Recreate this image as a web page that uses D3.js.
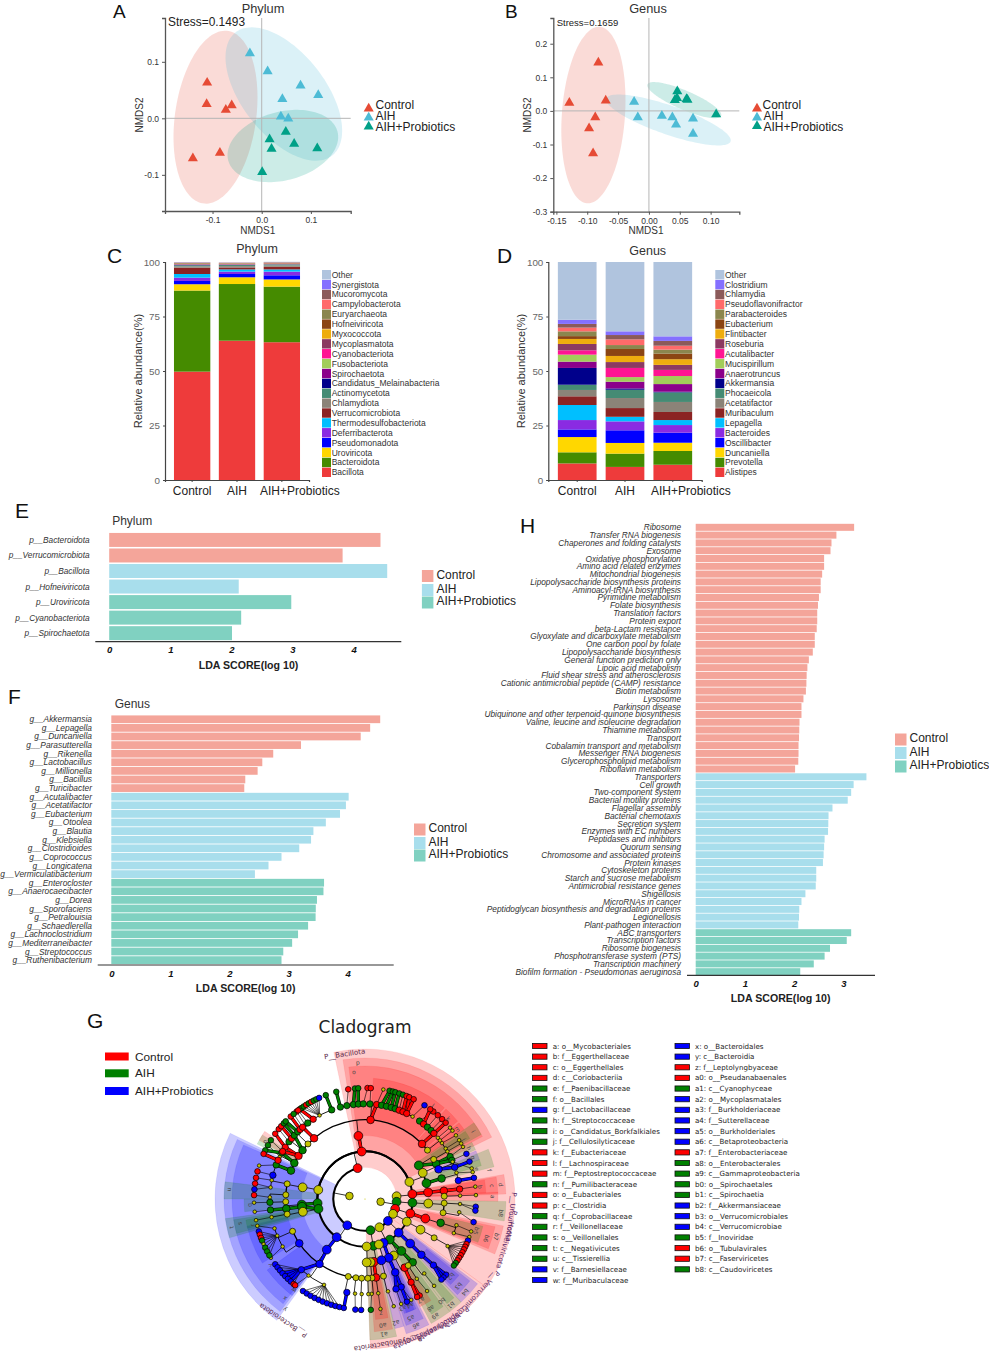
<!DOCTYPE html>
<html><head><meta charset="utf-8">
<script src="https://cdn.jsdelivr.net/npm/d3@7/dist/d3.min.js"></script>
<style>html,body{margin:0;background:#fff}svg{display:block;font-family:"Liberation Sans",Arial,sans-serif}</style>
</head><body><svg id="fig" width="989" height="1352"></svg>
<script>
// ---------- Groups ----------
const groups = ["Control","AIH","AIH+Probiotics"];
const nmdsColors = ["#E64B35","#4DBBD5","#00A087"];
const ldaColors = ["#F4A59A","#A8DEEC","#80D1C1"];

// ---------- A / B: NMDS points [x, y] and ellipses [cx, cy, halfX, halfY, corr] ----------
const phylumPoints = [
 [[-0.111,0.063],[-0.112,0.025],[-0.073,0.015],[-0.061,0.023],[-0.085,-0.061],[-0.14,-0.071]],
 [[-0.024,0.115],[0.012,0.083],[0.079,0.058],[0.115,0.041],[0.042,0.034],[0.039,0.003],[0.054,-0.0006]],
 [[0.016,-0.037],[0.049,-0.024],[0.020,-0.054],[0.066,-0.045],[0.113,-0.053],[0.001,-0.095]]];
const phylumEllipses = [[-0.094,0.002,0.0854,0.153,0.23],[0.045,0.043,0.1186,0.118,-0.55],[0.043,-0.049,0.1125,0.064,0.25]];
const genusPoints = [
 [[-0.082,0.144],[-0.129,0.024],[-0.070,0.031],[-0.087,-0.019],[-0.097,-0.052],[-0.0905,-0.126]],
 [[-0.024,0.027],[-0.018,-0.019],[0.021,-0.015],[0.038,-0.019],[0.0715,-0.023],[0.044,-0.041],[0.0715,-0.068]],
 [[0.046,0.058],[0.0455,0.038],[0.042,0.032],[0.061,0.035],[0.0625,0.033],[0.109,-0.010]]];
const genusEllipses = [[-0.09,-0.0125,0.052,0.2627,0.17],[0.0317,-0.027,0.101,0.0758,-0.8],[0.0574,0.032,0.060,0.0538,-0.82]];

// ---------- C / D: stacked composition ----------
const stackColors = ["#EE3B3B","#458B00","#FFD700","#0000FF","#8A2BE2","#00BFFF","#8B2323","#8B8378","#458B74","#00008B","#8B008B","#A2CD5A","#FF1493","#8B3A62","#EEAD0E","#8B4513","#8B864E","#FF6A6A","#8B5A5A","#8470FF","#B0C4DE"];
const phylumTaxa = ["Bacillota","Bacteroidota","Uroviricota","Pseudomonadota","Deferribacterota","Thermodesulfobacteriota","Verrucomicrobiota","Chlamydiota","Actinomycetota","Candidatus_Melainabacteria","Spirochaetota","Fusobacteriota","Cyanobacteriota","Mycoplasmatota","Myxococcota","Hofneiviricota","Euryarchaeota","Campylobacterota","Mucoromycota","Synergistota","Other"];
const phylumControl = [49.7,37.2,2.9,1.5,1.5,1.7,2.9,0.6,0.5,0.1,0.1,0.1,0.1,0.2,0.1,0.2,0.2,0.1,0.1,0.1,0.1];
const phylumAIH = [63.9,26,3.1,1.5,1.1,1,0.9,0.6,0.5,0.1,0.1,0.1,0.1,0.15,0.1,0.1,0.15,0.1,0.1,0.05,0.05];
const phylumProb = [63.2,25.5,3.3,1.9,1.7,1,1.2,0.6,0.4,0.1,0.1,0.1,0.1,0.15,0.1,0.1,0.15,0.1,0.1,0.05,0.15];
const genusTaxa = ["Alistipes","Prevotella","Duncaniella","Oscillibacter","Bacteroides","Lepagella","Muribaculum","Acetatifactor","Phocaeicola","Akkermansia","Anaerotruncus","Mucispirillum","Acutalibacter","Roseburia","Flintibacter","Eubacterium","Parabacteroides","Pseudoflavonifractor","Chlamydia","Clostridium","Other"];
const genusControl = [7.6,5.1,7,3.5,4.3,6.9,4,2.9,2.4,7.7,2.9,3.2,2,2.9,2.3,1.3,2.2,1.7,1.7,1.9,26.5];
const genusAIH = [6,6.1,4.9,5.8,4.1,2.1,4,4.6,3.8,0.6,3.1,2.1,4.2,2.7,2.8,3.2,1.8,2.6,2,1.7,31.8];
const genusProb = [7,6.3,3.8,4.6,3.5,2.3,3.7,4.6,4.4,0.3,3.5,3.7,2.8,2.3,2.6,2.6,1.8,1.8,2.2,2.1,34.1];

// ---------- E / F / H: LDA ----------
const ldaPhylumNames = ["p__Bacteroidota","p__Verrucomicrobiota","p__Bacillota","p__Hofneiviricota","p__Uroviricota","p__Cyanobacteriota","p__Spirochaetota"];
const ldaPhylumValues = [4.44,3.82,4.55,2.12,2.98,2.16,2.01];
const ldaPhylumGroups = [0,0,1,1,2,2,2];
const ldaGenusNames = ["g__Akkermansia","g__Lepagella","g__Duncaniella","g__Parasutterella","g__Rikenella","g__Lactobacillus","g__Millionella","g__Bacillus","g__Turicibacter","g__Acutalibacter","g__Acetatifactor","g__Eubacterium","g__Otoolea","g__Blautia","g__Klebsiella","g__Clostridioides","g__Coprococcus","g__Longicatena","g__Vermiculatibacterium","g__Enterocloster","g__Anaerocaecibacter","g__Dorea","g__Sporofaciens","g__Petralouisia","g__Schaedlerella","g__Lachnoclostridium","g__Mediterraneibacter","g__Streptococcus","g__Ruthenibacterium"];
const ldaGenusValues = [4.55,4.38,4.22,3.21,2.74,2.555,2.476,2.267,2.25,4.016,3.97,3.87,3.63,3.42,3.38,3.18,2.88,2.66,2.43,3.60,3.59,3.48,3.46,3.457,3.33,3.16,3.06,2.91,2.88];
const ldaGenusGroups = [0,0,0,0,0,0,0,0,0,1,1,1,1,1,1,1,1,1,1,2,2,2,2,2,2,2,2,2,2];
const pathwayNames = ["Ribosome","Transfer RNA biogenesis","Chaperones and folding catalysts","Exosome","Oxidative phosphorylation","Amino acid related enzymes","Mitochondrial biogenesis","Lipopolysaccharide biosynthesis proteins","Aminoacyl-tRNA biosynthesis","Pyrimidine metabolism","Folate biosynthesis","Translation factors","Protein export","beta-Lactam resistance","Glyoxylate and dicarboxylate metabolism","One carbon pool by folate","Lipopolysaccharide biosynthesis","General function prediction only","Lipoic acid metabolism","Fluid shear stress and atherosclerosis","Cationic antimicrobial peptide (CAMP) resistance","Biotin metabolism","Lysosome","Parkinson disease","Ubiquinone and other terpenoid-quinone biosynthesis","Valine, leucine and isoleucine degradation","Thiamine metabolism","Transport","Cobalamin transport and metabolism","Messenger RNA biogenesis","Glycerophospholipid metabolism","Riboflavin metabolism","Transporters","Cell growth","Two-component system","Bacterial motility proteins","Flagellar assembly","Bacterial chemotaxis","Secretion system","Enzymes with EC numbers","Peptidases and inhibitors","Quorum sensing","Chromosome and associated proteins","Protein kinases","Cytoskeleton proteins","Starch and sucrose metabolism","Antimicrobial resistance genes","Shigellosis","MicroRNAs in cancer","Peptidoglycan biosynthesis and degradation proteins","Legionellosis","Plant-pathogen interaction","ABC transporters","Transcription factors","Ribosome biogenesis","Phosphotransferase system (PTS)","Transcription machinery","Biofilm formation - Pseudomonas aeruginosa"];
const pathwayValues = [3.22,2.86,2.76,2.74,2.61,2.61,2.57,2.54,2.54,2.505,2.485,2.47,2.47,2.46,2.42,2.42,2.38,2.30,2.27,2.255,2.25,2.24,2.19,2.15,2.15,2.11,2.105,2.10,2.09,2.09,2.085,2.02,3.47,3.21,3.16,3.09,2.78,2.70,2.695,2.69,2.62,2.61,2.60,2.586,2.45,2.45,2.44,2.23,2.15,2.105,2.10,2.085,3.16,3.07,2.73,2.62,2.40,2.125];
const pathwayGroups = [0,0,0,0,0,0,0,0,0,0,0,0,0,0,0,0,0,0,0,0,0,0,0,0,0,0,0,0,0,0,0,0,1,1,1,1,1,1,1,1,1,1,1,1,1,1,1,1,1,1,1,1,2,2,2,2,2,2];

// ---------- G: cladogram ----------
const cladeColors = {r:"#ff0000",g:"#008000",b:"#0000ff",y:"#c4c400"};
const legendLeft = ["a: o__Mycobacteriales|r","b: f__Eggerthellaceae|r","c: o__Eggerthellales|r","d: c__Coriobacteriia|r","e: f__Paenibacillaceae|g","f: o__Bacillales|g","g: f__Lactobacillaceae|b","h: f__Streptococcaceae|g","i: o__Candidatus_Borkfalkiales|g","j: f__Cellulosilyticaceae|g","k: f__Eubacteriaceae|r","l: f__Lachnospiraceae|r","m: f__Peptostreptococcaceae|r","n: f__Pumilibacteraceae|g","o: o__Eubacteriales|r","p: c__Clostridia|r","q: f__Coprobacillaceae|g","r: f__Veillonellaceae|g","s: o__Veillonellales|g","t: c__Negativicutes|g","u: c__Tissierellia|g","v: f__Barnesiellaceae|b","w: f__Muribaculaceae|b"];
const legendRight = ["x: o__Bacteroidales|b","y: c__Bacteroidia|b","z: f__Leptolyngbyaceae|r","a0: o__Pseudanabaenales|r","a1: c__Cyanophyceae|g","a2: o__Mycoplasmatales|b","a3: f__Burkholderiaceae|b","a4: f__Sutterellaceae|b","a5: o__Burkholderiales|b","a6: c__Betaproteobacteria|b","a7: f__Enterobacteriaceae|r","a8: o__Enterobacterales|g","a9: c__Gammaproteobacteria|g","b0: o__Spirochaetales|g","b1: c__Spirochaetia|g","b2: f__Akkermansiaceae|b","b3: o__Verrucomicrobiales|b","b4: c__Verrucomicrobiae|b","b5: f__Inoviridae|g","b6: o__Tubulavirales|r","b7: c__Faserviricetes|r","b8: c__Caudoviricetes|g"];
// sectors: [label, startDeg, endDeg, level, colour, labelDeg]
const sectors = [
 ["P__Bacillota",-12,126,2,"r",-8],["P__Bacteroidota",-144,-64,2,"b",-146],["P__Cyanobacteriota",126,178,2,"r",171],
 ["p",-9,64,3,"r",-3],["o",-7,62,4,"r",-5],["l",4,41,5,"r",36],["k",42,50,5,"r",46],["m",51,55,5,"r",53],
 ["i",55,61,4,"g",58],["j",56,60,5,"g",59],["h",62,66,5,"g",64],["g",66.5,71,5,"b",69],["f",68,76,4,"g",77],["e",71,74,5,"g",75],
 ["d",80,88,3,"r",84],["c",80.5,87.5,4,"r",84],["b",81,87,5,"r",84],["a",87,91,4,"r",89],
 ["b8",91,99,3,"g",96],["b7",101,113,3,"r",106],["b6",102,112,4,"r",108],["b5",103,111,5,"g",106],
 ["b4",127,137,3,"b",133],["b3",128,136,4,"b",133],["b2",129,135,5,"b",132],["b1",137,143,3,"g",141],["b0",138,142,4,"g",143],
 ["a9",143,152,3,"g",149],["a8",144,150,4,"g",149],["a7",147,153,5,"r",151],["a6",153,163,3,"b",158],["a5",154,162,4,"b",159],["a4",155,161,5,"b",157],["a3",156,160,5,"b",161],["a2",163,167,4,"b",166],
 ["a1",167,178,3,"g",172],["a0",168,176,4,"r",172],["z",169,175,5,"r",172],
 ["y",-143,-65,3,"b",-144],["x",-142,-66,4,"b",-141],["w",-143,-126,5,"b",-142],["v",-122,-103,5,"b",-125],
 ["u",-90,-83,3,"g",-86],["t",-106,-98,3,"g",-102],["s",-105,-99,4,"g",-101],["r",-104,-100,5,"g",-103],["q",-96,-90,5,"g",-93],
 ["n",-63,-58,5,"g",-60],["",-61,-56,5,"r",-58]];
const phylumLabels = [["P__Uroviricota",97],["P__Hofneiviricota",106],["P__Verrucomicrobiota",133],["P__Spirochaetota",148],["P__Mycoplasmatota",156]];

// node format: [angleDeg, colour, children]
const cladeBacillota = [-13.5,"r",[
 [-79,"y",[[-79.4,"y",[[-79,"y",[[-83,"y",[[-85,"b"],[-82,"r"]]],[-78.6,"y",[[-79,"r"]]]]],[-87,"y",[[-89,"y",[[-88,"r"]]]]]]]]],
 [-95,"g",[[-95,"g",[[-92,"y",[[-92,"g",[[-91.9,"y"]]]]]]]]],
 [-102,"g",[[-97,"g",[[-97,"g",[[-96.6,"g",[[-96.6,"y"]]]]]]],[-101.6,"y",[[-101,"y",[[-101,"y",[[-101,"y"]]]]]]]]],
 [-4,"r",[[-6,"r",[
   [-69,"g",[[-69,"g",[[-72.5,"y"]]],[-75.5,"b",[[-75.6,"r"]]]]],
   [-63,"g",[[-63.5,"y",[[-61,"g"]]],[-61,"g",[[-64,"g"]]],[-66,"r",[[-66,"r"]]]]],
   [-57,"r",[[-57,"r",[[-54,"r"]]],[-53,"g",[[-51,"r"]]],[-60,"r",[[-58,"g"]]]]],
   [-52,"g",[[-50.5,"r",[[-49,"r"]]],[-48,"g",[[-47,"g"]]]]],
   [-46,"y",[[-45,"g",[[-45.6,"g"]]],[-43,"r",[[-42,"r"]]],[-39,"y",[[-38,"r"]]],[-33,"r",[[-36,"r"]]],
     [-28.5,"y",[[-35,"g"],[-33.5,"g"],[-32,"r"],[-30.5,"g"],[-29,"r"],[-27.5,"g"],[-26,"g"],[-24.4,"b"]]],[-20.5,"g",[[-20.7,"g"]]]]],
   [-40,"r",[[-41,"r",[[-40,"g"]]],[-37,"g",[[-37,"r"]]]]],
   [4,"r",[[-15,"g",[[-15,"g"]]],[-11,"g",[[-8.7,"r"]]],[-7,"g",[[-5.2,"g"]]],[-4,"g",[[-3.5,"g"]]],[-1,"g",[[1.3,"r"]]],[3,"g",[[3,"r"]]],[7,"r",[[9.5,"y"]]],[10,"g",[[12.8,"g"]]],[13,"g",[[14.5,"g"]]],[16,"g",[[15.9,"g"]]],[18.5,"g",[[18,"g"]]],[21,"r",[[20,"g"]]],[23.5,"r",[[22,"r"]]],[26,"r",[[23.5,"r"],[26,"r"]]],[30,"y",[[32.4,"b"]]]]],
   [46,"r",[[35,"g",[[38,"r"]]],[38,"r",[[36,"r"]]],[41,"g",[[41,"r"]]],[44,"g",[[44,"r"]]],[46.4,"r",[[46.6,"r"]]]]],
   [52,"y",[[50,"y",[[50,"y"]]],[54,"y",[[55,"y"]]]]]
 ]]]],
 [69,"y",[[58,"g",[[63.6,"g",[[63.5,"g",[[62,"y"]]],[58,"y",[[58,"y"]]],[52,"y",[[52,"y"]]],[66,"g",[[66,"b"]]]]],[68,"b",[[70.5,"b",[[70.3,"b"]]],[67,"y",[[74,"y"]]]]]]],
   [65.6,"y",[[60,"y",[[60,"y",[[60,"y"]]]]]]],
   [75.6,"g",[[75,"g",[[78.8,"b",[[79,"b"]]],[74,"y",[[76,"y"]]]]]]]]]
]];
const cladeActino = [85,"y",[[84,"r",[[84,"r",[[84,"r",[[84,"r",[[83.6,"y"]]]]],[88,"y",[[88,"y",[[88,"y"]]]]]]]]]]];
const cladeCaudo = [95,"g",[[94.5,"g",[[94,"y",[[93,"y",[[93,"y",[[94,"b"],[96,"b"]]]]],[100,"y",[[98,"y",[[102,"b"]]]]]]]]]]];
const cladeFaser = [108,"r",[[107.7,"r",[[107.9,"r",[[107.5,"g",[[106,"y",[[107,"y"]]],[111,"y",[[110,"y"]]]]]]]]]]];
const cladeFan = [118,"y",[[118.5,"y",[[118.9,"y",[[119.3,"y",[[119.7,"y",[[112,"b"],[114,"r"],[115.5,"r"],[117,"r"],[118.7,"r"],[120.4,"r"],[122,"r"],[123.6,"r"],[125.2,"g"],[126.8,"g"]]]]]]]]]]];
const cladeVerruco = [133.7,"b",[[135,"b",[[134.6,"b",[[134.7,"b",[[134,"b",[[133,"b"],[135,"b"],[136.5,"b"]]]]]]]]]]];
const cladeProteo = [153,"y",[
 [148.6,"g",[[145,"g",[[143,"g",[[141.5,"y",[[141.5,"y"]]]]],[150,"r",[[151,"r",[[150.5,"r"],[152,"r"]]]]]]],[153,"y",[[147,"y",[[147,"y",[[146,"y"]]]]]]]]],
 [157,"b",[[158,"b",[[157.6,"b",[[157.6,"b",[[157.8,"b"],[155.4,"y"]]],[161,"b",[[161,"y"]]]]]]]]],
 [163,"y",[[165,"b",[[166.5,"y",[[166,"y",[[165,"y"]]]]]]]]]]];
const cladeCyano = [170.8,"g",[[169.7,"g",[[172,"r",[[172,"r",[[172,"y",[[172,"y"]]]]]]],[175,"y",[[175,"y",[[176,"y",[[177,"g"]]]]]]]]],[178,"y",[[178.5,"y",[[178,"y",[[178,"y"]]]]]]]]];
const cladeBacteroidota = [-146,"b",[[-143.5,"b",[[-143,"b",[
 [-124,"b",[[-120,"y",[[-122,"y"]]],[-112.7,"y",[[-107,"b"],[-108.7,"r"],[-110.5,"r"],[-112,"g"],[-114,"y"],[-116,"g"],[-118.2,"g"],[-120.5,"g"]]]]],
 [-114,"y",[[-108,"y",[[-104,"y"]]]]],
 [-145,"b",[[-138,"b",[[-126,"b"],[-128,"b"],[-130,"b"],[-132,"b"],[-134,"b"],[-136,"b"],[-138,"b"],[-140,"r"]]],[-143.6,"y",[[-141,"r"]]],[-154.5,"y",[[-146,"b"],[-148.3,"b"],[-150.6,"b"],[-153,"b"],[-155.3,"b"],[-157.6,"b"],[-160,"b"],[-162.3,"b"],[-164.5,"b"],[-166.7,"b"]]]]],
 [-167.8,"y",[[-169,"b",[[-169,"b"]]]]],[-173.4,"y",[[-174,"y",[[-175,"b"]]]]],[-177.6,"y",[[-178,"y",[[-178,"b"]]]]]
]]]]]];
const cladogramRoot = [0,"y",[
 [-79,"y",[cladeBacillota,cladeBacteroidota,[-190,"g",cladeCyano[2]]]],
 [100,"y",[cladeActino,cladeCaudo,cladeFaser,cladeFan,cladeVerruco,cladeProteo]]]];

// ---------- Helpers ----------
const svg = d3.select("#fig");
const FONT = '"Liberation Sans",Arial,sans-serif';
function txt(x,y,s,o={}){
  const t = svg.append("text").attr("x",x).attr("y",y).attr("dominant-baseline","central").text(s)
    .attr("font-size",o.size||10).attr("fill",o.fill||"#222").attr("text-anchor",o.anchor||"start");
  if(o.weight) t.attr("font-weight",o.weight);
  if(o.style) t.attr("font-style",o.style);
  if(o.family) t.attr("font-family",o.family);
  if(o.rotate!==undefined) t.attr("transform",`rotate(${o.rotate} ${x} ${y})`);
  return t;
}
[["A",113,11,19],["B",505,11,19],["C",107,255,21],["D",497,255,21],["E",15,510,21],["F",8,696,21],["G",87,1020.5,21],["H",520,525,21]]
 .forEach(([s,x,y,size])=>txt(x,y,s,{size,fill:"#111"}));

// ---------- NMDS ----------
function nmds(c){
  const x = d3.scaleLinear().domain(c.xd).range(c.xr), y = d3.scaleLinear().domain(c.yd).range(c.yr);
  const g = svg.append("g");
  const line = d3.line().x(d=>x(d[0])).y(d=>y(d[1])).curve(d3.curveLinearClosed);
  c.ellipses.forEach((e,i)=>{
    const phi = Math.acos(e[4]);
    const pts = d3.range(0,2*Math.PI,0.05).map(t=>[e[0]+e[2]*Math.cos(t), e[1]+e[3]*Math.cos(t-phi)]);
    g.append("path").attr("d",line(pts)).attr("fill",nmdsColors[i]).attr("fill-opacity",0.2);
  });
  g.append("line").attr("x1",x(0)).attr("x2",x(0)).attr("y1",c.yr[0]).attr("y2",c.yr[1]).attr("stroke","#b5b5b5").attr("stroke-width",1);
  g.append("line").attr("x1",c.xr[0]).attr("x2",c.xr[1]).attr("y1",y(0)).attr("y2",y(0)).attr("stroke","#b5b5b5").attr("stroke-width",1);
  const ax = g.append("g").attr("transform",`translate(0,${c.yr[0]})`).call(d3.axisBottom(x).tickValues(c.xt).tickSize(3).tickFormat(d=>d.toFixed(c.xf)));
  const ay = g.append("g").attr("transform",`translate(${c.xr[0]},0)`).call(d3.axisLeft(y).tickValues(c.yt).tickSize(3).tickFormat(d=>d.toFixed(1)));
  [ax,ay].forEach(a=>{a.attr("font-family",FONT).attr("font-size",8.5);a.selectAll("text").attr("fill","#333");a.selectAll("line,path").attr("stroke","#555");a.select(".domain").attr("stroke-width",1.3);});
  const tri = d3.symbol(d3.symbolTriangle,44);
  c.points.forEach((pts,i)=>g.selectAll(null).data(pts).join("path").attr("d",tri).attr("fill",nmdsColors[i])
     .attr("transform",d=>`translate(${x(d[0])},${y(d[1])})`));
  c.legend.forEach((l,i)=>{
    g.append("path").attr("d",tri).attr("fill",nmdsColors[i]).attr("transform",`translate(${l[0]},${l[1]})`);
    txt(l[2],l[3],groups[i],{size:12,fill:"#222"});
  });
  txt(c.title[0],8,c.name,{size:12.8,anchor:"middle",fill:"#333"});
  txt(c.stress[0],c.stress[1],c.stress[2],{size:c.stress[3],fill:"#222"});
  txt(c.xl,230,"NMDS1",{size:10,anchor:"middle",fill:"#333"});
  txt(c.yl,115,"NMDS2",{size:10,anchor:"middle",fill:"#333",rotate:-90});
}
nmds({name:"Phylum",points:phylumPoints,ellipses:phylumEllipses,xd:[-0.1967,0.181],xr:[165,350.7],yd:[-0.164,0.1775],yr:[211,18],
  xt:[-0.1,0,0.1],yt:[-0.1,0,0.1],xf:1,title:[263],stress:[168,21.7,"Stress=0.1493",11.9],xl:257.7,yl:139,
  legend:[[368.7,108.5,375.5,104.7],[368.7,117.5,375.5,115.7],[368.7,126.5,375.5,127.3]]});
nmds({name:"Genus",points:genusPoints,ellipses:genusEllipses,xd:[-0.155,0.1465],xr:[553.3,739.3],yd:[-0.3,0.2765],yr:[211.7,18],
  xt:[-0.15,-0.1,-0.05,0,0.05,0.1],yt:[-0.3,-0.2,-0.1,0,0.1,0.2],xf:2,title:[648],stress:[556.7,22.7,"Stress=0.1659",9.5],xl:646,yl:527,
  legend:[[757,108.5,762.5,105],[757,117.5,763.5,116],[757,126,763.5,126.5]]});

// ---------- Stacked bars ----------
function stacked(c){
  const x = d3.scaleBand().domain(groups).range(c.xr).paddingInner(0.19).paddingOuter(0.2);
  const y = d3.scaleLinear().domain([0,100]).range([480,262]);
  const rows = groups.map((g,i)=>Object.fromEntries([["g",g],...c.taxa.map((t,j)=>[t,c.values[i][j]])]));
  const series = d3.stack().keys(c.taxa)(rows);
  const g = svg.append("g");
  series.forEach((s,k)=>g.selectAll(null).data(s).join("rect")
    .attr("x",d=>x(d.data.g)).attr("width",x.bandwidth()).attr("y",d=>y(d[1])).attr("height",d=>y(d[0])-y(d[1]))
    .attr("fill",stackColors[k]));
  const ax = g.append("g").attr("transform","translate(0,480)").call(d3.axisBottom(x).tickSize(2));
  const ay = g.append("g").attr("transform",`translate(${c.xr[0]},0)`).call(d3.axisLeft(y).tickValues([0,25,50,75,100]).tickSize(2));
  ax.attr("font-family",FONT).attr("font-size",12); ax.selectAll("text").attr("fill","#222").attr("dy","0.85em").attr("x",d=>d==="AIH+Probiotics"?18:0);
  ay.attr("font-family",FONT).attr("font-size",9.8); ay.selectAll("text").attr("fill","#666");
  [ax,ay].forEach(a=>{a.selectAll("line,path").attr("stroke","#444");a.select(".domain").attr("stroke-width",1.2);});
  txt(c.tx,c.ty,c.name,{size:12.5,anchor:"middle",fill:"#333"});
  txt(c.yl,371,"Relative abundance(%)",{size:11,anchor:"middle",fill:"#333",rotate:-90});
  const ly = d3.scaleLinear().domain([0,20]).range([472.3,274.7]);
  c.taxa.forEach((t,i)=>{
    g.append("rect").attr("x",c.sw).attr("y",ly(i)-4.7).attr("width",9).attr("height",9.4).attr("fill",stackColors[i]);
    txt(c.sw+9.7,ly(i),t,{size:8.5,fill:"#333"});
  });
}
stacked({name:"Phylum",taxa:phylumTaxa,values:[phylumControl,phylumAIH,phylumProb],xr:[165,309],tx:257,ty:249,yl:138,sw:322});
stacked({name:"Genus",taxa:genusTaxa,values:[genusControl,genusAIH,genusProb],xr:[548.3,701.7],tx:647.7,ty:251,yl:521,sw:715.3});

// ---------- LDA bars ----------
function lda(c){
  const n = c.names.length, step = (c.c1-c.c0)/(n-1);
  const y = d3.scaleBand().domain(c.names).range([c.c0-step/2,c.c1+step/2]).paddingInner(0.1);
  const x = d3.scaleLinear().domain([0,c.ticks[c.ticks.length-1]]).range([c.x0,c.x1]);
  const g = svg.append("g");
  g.selectAll(null).data(c.names).join("rect").attr("x",x(0)).attr("y",d=>y(d)).attr("height",y.bandwidth())
    .attr("width",(d,i)=>x(c.values[i])-x(0)).attr("fill",(d,i)=>ldaColors[c.groups[i]]);
  c.names.forEach(nm=>txt(c.lx,y(nm)+y.bandwidth()/2,nm,{size:c.ls,anchor:"end",style:"italic",fill:"#333"}));
  const ax = g.append("g").attr("transform",`translate(0,${c.ay})`).call(d3.axisBottom(x).tickValues(c.ticks).tickSize(0).tickFormat(d3.format("d")).tickPadding(5));
  ax.select(".domain").remove();
  ax.attr("font-family",FONT).attr("font-size",9.5).attr("font-weight","bold").attr("font-style","italic");
  ax.selectAll("text").attr("fill","#111");
  g.append("line").attr("x1",c.a0).attr("x2",c.a1).attr("y1",c.ay).attr("y2",c.ay).attr("stroke","#333").attr("stroke-width",1.2);
  txt(c.tc,c.ay+23,"LDA SCORE(log 10)",{size:10.6,weight:"bold",anchor:"middle",fill:"#222"});
  if(c.title) txt(c.title[0],c.title[1],c.title[2],{size:12,fill:"#333"});
  c.legend.forEach((ly,i)=>{
    g.append("rect").attr("x",c.lgx).attr("y",ly-6).attr("width",11.5).attr("height",12).attr("fill",ldaColors[i]);
    txt(c.lgx+14.5,ly-1.5,groups[i],{size:12,fill:"#222"});
  });
}
lda({names:ldaPhylumNames,values:ldaPhylumValues,groups:ldaPhylumGroups,c0:540.6,c1:632.5,x0:109.2,x1:353.6,ticks:[0,1,2,3,4],lx:89.6,ls:8.3,ay:641.6,a0:95.3,a1:401.3,tc:248.5,title:[112.2,521.3,"Phylum"],lgx:421.9,legend:[576,590,602.5]});
lda({names:ldaGenusNames,values:ldaGenusValues,groups:ldaGenusGroups,c0:719.7,c1:959.7,x0:111.3,x1:347.7,ticks:[0,1,2,3,4],lx:92,ls:8.4,ay:965,a0:97.7,a1:393.7,tc:245.7,title:[114.7,704,"Genus"],lgx:414,legend:[829.5,843,855.5]});
lda({names:pathwayNames,values:pathwayValues,groups:pathwayGroups,c0:527.7,c1:971.3,x0:695.7,x1:843.3,ticks:[0,1,2,3],lx:681,ls:8.3,ay:975.3,a0:687,a1:875,tc:780.7,lgx:895,legend:[739.5,753,766.5]});

// ---------- Cladogram ----------
(function(){
  const cx=365, cy=1199;
  const r = d3.scaleLinear().domain([0,7]).range([0,111]);
  const rad = d3.scaleLinear().domain([-180,180]).range([-Math.PI,Math.PI]);
  const outer = {2:150,3:141,4:133,5:121};
  const px = (lv,deg)=>[cx+r(lv)*Math.sin(rad(deg)), cy-r(lv)*Math.cos(rad(deg))];
  const g = svg.append("g");
  txt(cx,1027,"Cladogram",{size:17,anchor:"middle",fill:"#222",family:"DejaVu Sans"});
  const sg = g.append("g").attr("transform",`translate(${cx},${cy})`);
  const arc = d3.arc();
  sectors.forEach(s=>{
    sg.append("path").attr("d",arc({innerRadius:r(s[3]),outerRadius:outer[s[3]],startAngle:rad(s[1]),endAngle:rad(s[2])}))
      .attr("fill",cladeColors[s[4]]).attr("fill-opacity",0.2).attr("stroke",cladeColors[s[4]]).attr("stroke-opacity",0.15).attr("stroke-width",0.5);
  });
  const root = d3.hierarchy(cladogramRoot,d=>d[2]);
  const lg = g.append("g").attr("fill","none");
  const widths = [0,0,2.1,2.0,1.7,1.3,0.9,0.5];
  root.descendants().forEach(n=>{
    if(!n.children) return;
    const a = n.data[0], dc = n.depth+1;
    if(n.depth===0) return;
    if(dc===7){
      n.children.forEach(ch=>{
        const p0=px(n.depth,a),p1=px(dc,ch.data[0]);
        lg.append("line").attr("x1",p0[0]).attr("y1",p0[1]).attr("x2",p1[0]).attr("y2",p1[1]).attr("stroke","#000").attr("stroke-width",0.6);
      });
      return;
    }
    const p0=px(n.depth,a),p1=px(dc,a);
    lg.append("line").attr("x1",p0[0]).attr("y1",p0[1]).attr("x2",p1[0]).attr("y2",p1[1]).attr("stroke","#000").attr("stroke-width",0.8);
    const angs = n.children.map(c=>c.data[0]).concat([a]);
    const a0 = d3.min(angs), a1 = d3.max(angs);
    if(a1>a0){
      const pth = d3.path();
      pth.arc(cx,cy,r(dc),rad(a0)-Math.PI/2,rad(a1)-Math.PI/2);
      lg.append("path").attr("d",pth.toString()).attr("stroke","#000").attr("stroke-width",widths[dc]);
    }
  });
  // thick coloured links between same-coloured neighbouring nodes of a chain
  root.descendants().forEach(n=>{
    if(!n.parent||n.depth<4) return;
    const c=n.data[1], pc=n.parent.data[1];
    if(c===pc&&c!=="y"&&Math.abs(n.data[0]-n.parent.data[0])<8){
      const p0=px(n.depth-1,n.parent.data[0]),p1=px(n.depth,n.data[0]);
      lg.append("line").attr("x1",p0[0]).attr("y1",p0[1]).attr("x2",p1[0]).attr("y2",p1[1]).attr("stroke","#000").attr("stroke-width",3.4);
      lg.append("line").attr("x1",p0[0]).attr("y1",p0[1]).attr("x2",p1[0]).attr("y2",p1[1]).attr("stroke",cladeColors[c]).attr("stroke-width",2.4);
    }
  });
  const sizes=[0.6,3.8,4.4,4.4,4.4,3.8,3.2,2.8];
  const ng = g.append("g");
  root.descendants().forEach(n=>{
    const c=n.data[1], p=px(n.depth,n.data[0]);
    let sz=sizes[n.depth];
    if(c==="y"&&n.depth>=6) sz=1.8; else if(c==="y"&&n.depth===5) sz=3;
    ng.append("circle").attr("cx",p[0]).attr("cy",p[1]).attr("r",sz).attr("fill",cladeColors[c]).attr("stroke","#000").attr("stroke-width",n.depth===0?0:0.7);
  });
  // sector labels
  const labelR = {2:146,3:137,4:128,5:116};
  sectors.filter(s=>s[0]).forEach(s=>{
    const rr = labelR[s[3]], a=rad(s[5]), deg=s[5];
    const x=cx+rr*Math.sin(a), y=cy-rr*Math.cos(a);
    txt(x,y,s[0],{size:s[3]===2?7:6,anchor:"middle",fill:s[3]===2?"#5a2a4a":"#444",rotate:deg,family:"DejaVu Sans"});
  });
  phylumLabels.forEach(l=>{
    const a=rad(l[1]),x=cx+147*Math.sin(a),y=cy-147*Math.cos(a);
    txt(x,y,l[0],{size:7,anchor:"middle",fill:"#5a2a6a",rotate:l[1],family:"DejaVu Sans"});
  });
  // legends
  const leg = [["Control","#ff0000",1056.5],["AIH","#008000",1073.3],["AIH+Probiotics","#0000ff",1091]];
  leg.forEach(l=>{
    g.append("rect").attr("x",105).attr("y",l[2]-4).attr("width",23.7).attr("height",8).attr("fill",l[1]);
    txt(135,l[2],l[0],{size:11.8,fill:"#222"});
  });
  function cl(items,sx,tx){
    const y = d3.scaleLinear().domain([0,22]).range([1046,1280]);
    items.forEach((s,i)=>{
      const [t,c]=s.split("|");
      g.append("rect").attr("x",sx).attr("y",y(i)-2.6).attr("width",14.5).attr("height",5.2).attr("fill",cladeColors[c]).attr("stroke","#111").attr("stroke-width",0.8);
      txt(tx,y(i),t,{size:7.1,fill:"#222",family:"DejaVu Sans"});
    });
  }
  cl(legendLeft,532.5,552.7);
  cl(legendRight,675,695);
})();
</script></body></html>
